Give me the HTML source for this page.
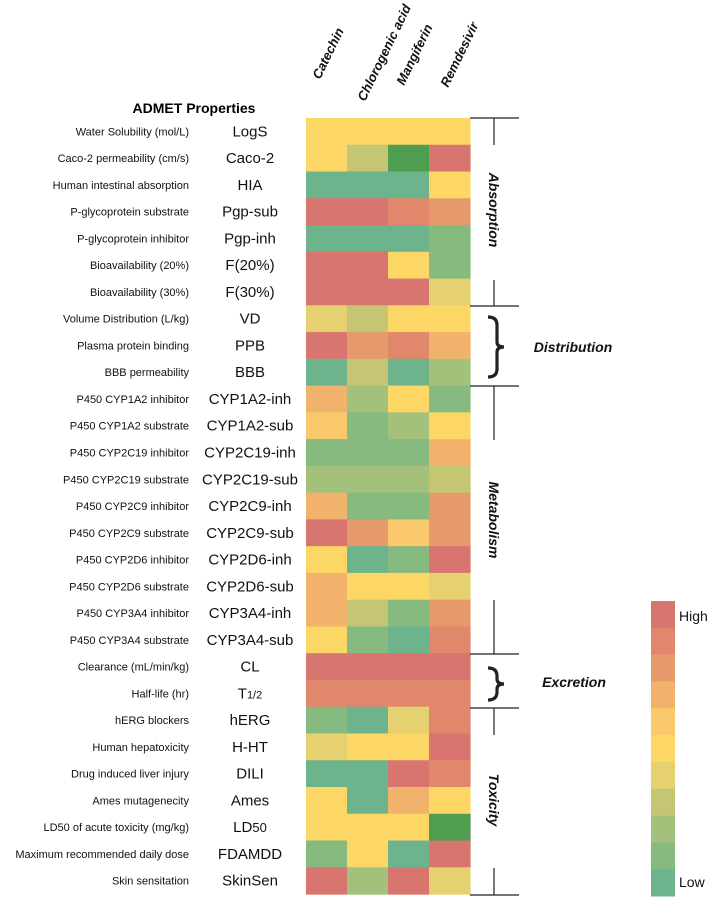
<!DOCTYPE html>
<html><head><meta charset="utf-8">
<style>
html,body{margin:0;padding:0;background:#fff;}
svg{display:block;font-family:"Liberation Sans",sans-serif;}
</style></head>
<body>
<svg id="chart" width="712" height="899" viewBox="0 0 712 899" xmlns="http://www.w3.org/2000/svg">
<g id="cells"></g>
<g id="labels"></g>
<g id="cols"></g>
<text x="194" y="113" text-anchor="middle" font-weight="bold" font-size="14">ADMET Properties</text>
<g id="groups" stroke="#222" stroke-width="1.2" fill="none"></g>
<g id="legend"></g>
</svg>
<script>
const compounds = ["Catechin","Chlorogenic acid","Mangiferin","Remdesivir"];
const descriptions = ["Water Solubility (mol/L)","Caco-2 permeability (cm/s)","Human intestinal absorption","P-glycoprotein substrate","P-glycoprotein inhibitor","Bioavailability (20%)","Bioavailability (30%)","Volume Distribution (L/kg)","Plasma protein binding","BBB permeability","P450 CYP1A2 inhibitor","P450 CYP1A2 substrate","P450 CYP2C19 inhibitor","P450 CYP2C19 substrate","P450 CYP2C9 inhibitor","P450 CYP2C9 substrate","P450 CYP2D6 inhibitor","P450 CYP2D6 substrate","P450 CYP3A4 inhibitor","P450 CYP3A4 substrate","Clearance (mL/min/kg)","Half-life (hr)","hERG blockers","Human hepatoxicity","Drug induced liver injury","Ames mutagenecity","LD50 of acute toxicity (mg/kg)","Maximum recommended daily dose","Skin sensitation"];
const abbrevs = ["LogS","Caco-2","HIA","Pgp-sub","Pgp-inh","F(20%)","F(30%)","VD","PPB","BBB","CYP1A2-inh","CYP1A2-sub","CYP2C19-inh","CYP2C19-sub","CYP2C9-inh","CYP2C9-sub","CYP2D6-inh","CYP2D6-sub","CYP3A4-inh","CYP3A4-sub","CL","T1/2","hERG","H-HT","DILI","Ames","LD50","FDAMDD","SkinSen"];
// level 0 = Low ... 10 = High, -1 = dark green
const catechin    = [5,5,0,10,0,10,10,4,10,0,7,6,1,2,7,10,5,7,7,5,10,9,1,4,0,5,5,1,10];
const chlorogenic = [5,3,0,10,0,10,10,3,8,3,2,1,1,2,1,8,0,5,3,1,10,9,0,5,0,0,5,5,2];
const mangiferin  = [5,-1,0,9,0,5,10,5,9,0,5,2,1,2,1,6,1,5,1,0,10,9,4,5,10,7,5,0,10];
const remdesivir  = [5,10,5,8,1,1,4,5,7,2,1,5,7,3,8,8,10,4,8,9,10,9,9,10,9,5,-1,10,4];
const legendLabels = ["High","Low"];

const series=[catechin,chlorogenic,mangiferin,remdesivir];
const palette=["#6db38b","#86ba7f","#a3c17b","#c5c674","#e6d170","#fcd766","#f9c96b","#f1b36c","#e69a6b","#e0876c","#d8756f"];
const darkGreen="#4f9d4f";
const X0=306, CW=41, Y0=118, RH=26.76;
const xPos=i=>X0+i*CW, yPos=r=>Y0+r*RH;
const colorOf=v=>v<0?darkGreen:palette[Math.round(v)];
const NS="http://www.w3.org/2000/svg";
function mk(tag,attrs,parent,txt){const e=document.createElementNS(NS,tag);for(const k in attrs)e.setAttribute(k,attrs[k]);if(txt!==undefined)e.textContent=txt;parent.appendChild(e);return e;}
const cells=document.getElementById('cells');
series.forEach((s,ci)=>{s.forEach((v,r)=>{
  const rc=mk('rect',{x:xPos(ci),y:yPos(r),width:CW+0.6,height:RH+0.6,fill:colorOf(v)},cells);
  
  
});});
const labels=document.getElementById('labels');
descriptions.forEach((d,r)=>{
  const t=mk('text',{x:189,y:yPos(r)+RH/2+4,'text-anchor':'end','font-size':'11',fill:'#111'},labels,d);
  
  
  const a=mk('text',{x:250,y:yPos(r)+RH/2+5,'text-anchor':'middle','font-size':'15',fill:'#111'},labels);
  
  
  const ab=abbrevs[r];
  if(ab==="T1/2"){a.textContent="T";mk('tspan',{'font-size':'11'},a,"1/2");}
  else if(ab==="LD50"){a.textContent="LD";mk('tspan',{'font-size':'13'},a,"50");}
  else a.textContent=ab;
});
const cols=document.getElementById('cols');
const colAnchors=[[320,80],[365,102],[404,86],[448,88]];
compounds.forEach((c,i)=>{
  const [x,y]=colAnchors[i];
  const t=mk('text',{x:x,y:y,transform:`rotate(-64 ${x} ${y})`,'font-size':'13','font-weight':'bold','font-style':'italic',fill:'#111'},cols,c);
  
  
});
const g=document.getElementById('groups');
[118,306,386,654,708,895].forEach(y=>{const l=mk('line',{x1:470,y1:y,x2:519,y2:y},g);});
[[118,145],[280,306],[386,440],[600,654],[708,735],[868,895]].forEach(([a,b])=>{const l=mk('line',{x1:494,y1:a,x2:494,y2:b},g);});
function brace(y1,y2){const m=(y1+y2)/2;const p=mk('path',{d:`M488 ${y1} Q497 ${y1} 497 ${y1+8} L497 ${m-5} Q497 ${m} 504 ${m} Q497 ${m} 497 ${m+5} L497 ${y2-8} Q497 ${y2} 488 ${y2}`,'stroke-width':'3.2'},g);}
brace(317,377);brace(668,700);
function sect(txt,x,y,rot){const t=mk('text',{x:x,y:y,'text-anchor':'middle','font-size':'14','font-weight':'bold','font-style':'italic',fill:'#111',stroke:'none',transform:rot?`rotate(90 ${x} ${y})`:''},g,txt);}
sect("Absorption",489,210,true);sect("Distribution",573,352,false);sect("Metabolism",489,520,true);sect("Excretion",574,687,false);sect("Toxicity",489,800,true);
const lg=document.getElementById('legend');
const LY0=601, LH=(896-601)/11;
for(let k=0;k<11;k++){const r=mk('rect',{x:651,y:LY0+k*LH,width:24,height:LH+0.5,fill:palette[10-k]},lg);}
const hi=mk('text',{x:679,y:621,'font-size':'14',fill:'#111'},lg,legendLabels[0]);
const lo=mk('text',{x:679,y:887,'font-size':'14',fill:'#111'},lg,legendLabels[1]);
</script>
</body></html>
